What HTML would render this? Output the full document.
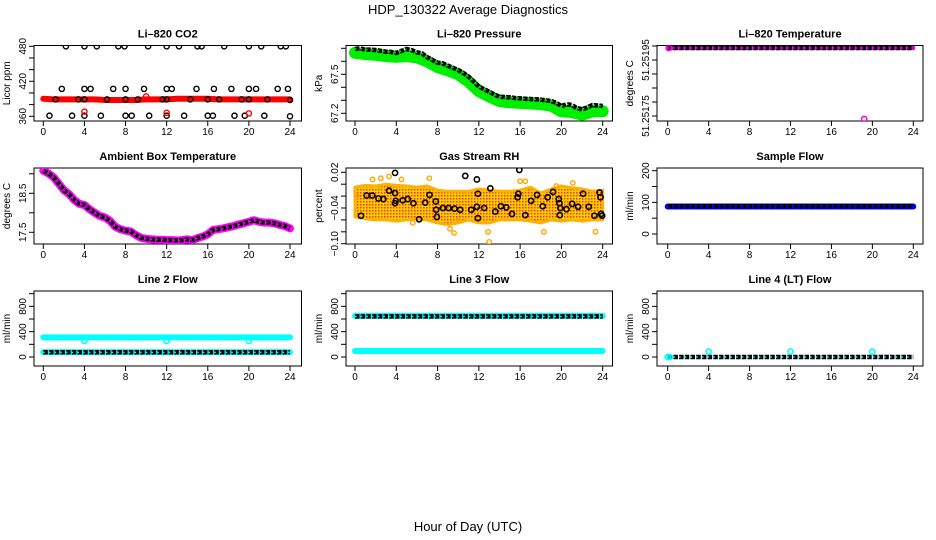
<!DOCTYPE html>
<html><head><meta charset="utf-8">
<style>
html,body{margin:0;padding:0;background:#fff;}
svg{display:block;font-family:"Liberation Sans",Arial,sans-serif;}
</style></head>
<body>
<svg id="fig" width="936" height="540" viewBox="0 0 936 540" xmlns="http://www.w3.org/2000/svg">
<defs>
<pattern id="rhpat" width="3" height="3" patternUnits="userSpaceOnUse">
<rect width="3" height="3" fill="#ffd000"/><rect x="0" y="0" width="1.5" height="1.5" fill="#ff2a00"/>
</pattern>
</defs>
<text x="468" y="14" text-anchor="middle" font-size="13">HDP_130322  Average Diagnostics</text>
<text x="468" y="531" text-anchor="middle" font-size="13">Hour of Day (UTC)</text>
</svg>
<script>
// ---- data ----
const xTicks = [0,4,8,12,16,20,24];
const halfHours = []; for (let i=0;i<=48;i++) halfHours.push(i/2);
const hours = []; for (let i=0;i<=24;i++) hours.push(i);

// CO2
const co2Red = [390,389,389,389,389,389,388,388,388,388,389,389,389,390,390,390,390,389,389,389,389,389,389,389,389];
const co2BlackH = [2.2,4,5.2,7.3,7.9,10.2,12,13.2,15,15.4,17.6,20,21.2,23.1,23.6, 1.8,4,4.6,6.8,8,9.8,12,12.5,14.9,16.6,18.3,20,20.7,22.8,23.8, 1.2,3.4,4,6.2,8,9.2,11.6,12,14.3,16,17.1,19.3,20,21.8,24, 0.6,2.8,4,5.6,8,8.6,10.3,12,13.7,16,16.5,18.6,19.6,21.5,24];
const co2BlackV = [480,480,480,480,480,480,480,480,480,480,480,480,480,480,480, 407,407,407,407,407,407,407,407,407,407,407,407,407,407,407, 389,389,389,389,389,389,389,389,389,389,389,389,389,389,388, 361,361,361,361,361,361,361,361,361,361,361,361,361,361,360];
const co2RedPtH = [4,10,12,20];
const co2RedPtV = [368,394,366,365];

// Pressure
const presBlack = [67.695,67.70,67.69,67.69,67.687,67.68,67.674,67.672,67.664,67.68,67.695,67.685,67.669,67.66,67.631,67.61,67.589,67.585,67.566,67.55,67.533,67.51,67.482,67.445,67.405,67.385,67.366,67.345,67.328,67.325,67.323,67.318,67.315,67.312,67.31,67.308,67.305,67.30,67.295,67.28,67.256,67.27,67.264,67.24,67.231,67.245,67.264,67.26,67.256];
const presGreen = [67.665,67.655,67.65,67.64,67.635,67.64,67.63,67.60,67.555,67.53,67.50,67.445,67.37,67.33,67.295,67.285,67.28,67.275,67.27,67.26,67.215,67.21,67.19,67.215,67.215];

// Li-820 temperature
const tempVals = [51.251993,51.251993,51.251993,51.251993,51.251993,51.251993,51.251993,51.251993,51.251993,51.251993,51.251993,51.251993,51.251993,51.251993,51.251993,51.251993,51.251993,51.251993,51.251993,51.251993,51.251993,51.251993,51.251993,51.251993,51.251993];
const tempOutH = [0.1,19.2];
const tempOutV = [51.251993,51.251739];

// Ambient box temperature
const ambVals = [19.08,19.01,18.91,18.75,18.58,18.48,18.33,18.23,18.20,18.09,18.00,17.92,17.88,17.79,17.64,17.58,17.54,17.52,17.43,17.36,17.33,17.32,17.31,17.31,17.30,17.30,17.29,17.30,17.32,17.30,17.35,17.39,17.45,17.56,17.58,17.60,17.63,17.66,17.70,17.73,17.77,17.81,17.77,17.75,17.75,17.73,17.69,17.66,17.60];

// Gas stream RH
const rhUpper = [-0.005,-0.002,-0.003,0,-0.002,-0.003,-0.005,-0.003,-0.01,-0.012,-0.012,-0.012,-0.008,-0.01,-0.012,-0.012,-0.01,-0.005,-0.015,-0.008,-0.003,-0.006,-0.008,-0.012,-0.01];
const rhLower = [-0.055,-0.058,-0.06,-0.06,-0.062,-0.06,-0.058,-0.06,-0.065,-0.068,-0.065,-0.06,-0.065,-0.065,-0.06,-0.06,-0.06,-0.062,-0.065,-0.06,-0.062,-0.06,-0.062,-0.06,-0.06];
const rhOutH = [1.7,2.5,3.3,4.5,7.2,9.2,9.6,12.9,13.0,16,16.5,18.3,23.3,0.2,5.6,10,19.5,21.1];
const rhOutV = [0.008,0.01,0.013,0.008,0.01,-0.075,-0.082,-0.08,-0.097,0.005,0.005,-0.08,-0.08,-0.02,-0.065,-0.06,-0.003,0.002];
const rhBlackH = [0.58,1.13,1.68,2.27,2.75,3.30,3.88,3.88,3.95,3.88,4.63,5.11,5.66,6.21,6.80,7.22,7.83,7.86,7.93,8.51,9.06,9.64,10.19,10.68,11.26,11.81,11.81,11.91,11.91,12.52,13.11,13.59,14.14,14.66,15.21,15.76,15.83,15.92,16.50,17.06,17.64,18.19,18.67,19.19,19.74,19.81,19.84,19.90,20.49,21.04,21.62,22.10,22.65,23.20,23.69,23.79,23.85,23.95];
const rhBlackV = [-0.053,-0.019,-0.019,-0.024,-0.025,-0.011,-0.015,-0.032,-0.028,0.019,-0.027,-0.025,-0.032,-0.059,-0.031,-0.018,-0.029,-0.043,-0.055,-0.040,-0.040,-0.041,-0.043,0.014,-0.043,0.008,-0.038,-0.016,-0.057,-0.040,-0.007,-0.046,-0.037,-0.039,-0.050,-0.022,-0.016,0.024,-0.052,-0.028,-0.018,-0.037,-0.022,-0.013,-0.025,-0.032,-0.052,-0.040,-0.042,-0.033,-0.038,-0.016,-0.038,-0.053,-0.014,-0.022,-0.050,-0.053];

// Sample flow
const sfBlue = [87,87,87,87,87,87,87,87,87,87,87,87,87,87,87,87,87,87,87,87,87,87,87,87,87];
const sfBlack = [88,88,88,88,88,88,88,88,88,88,88,88,88,88,88,88,88,88,88,88,88,88,88,88,88];

// Line 2
const l2CyanHi = [310,310,310,310,310,310,310,310,310,310,310,310,310,310,310,310,310,310,310,310,310,310,310,310,310];
const l2CyanLo = [78,78,78,78,78,78,78,78,78,78,78,78,78,78,78,78,78,78,78,78,78,78,78,78,78];
const l2Black = [75,75,75,75,75,75,75,75,75,75,75,75,75,75,75,75,75,75,75,75,75,75,75,75,75];
const l2DipH = [4,12,20];
const l2DipV = [255,255,255];

// Line 3
const l3CyanHi = [650,650,650,650,650,650,650,650,650,650,650,650,650,650,650,650,650,650,650,650,650,650,650,650,650];
const l3CyanLo = [95,95,95,95,95,95,95,95,95,95,95,95,95,95,95,95,95,95,95,95,95,95,95,95,95];
const l3Black = [642,642,642,642,642,642,642,642,642,642,642,642,642,642,642,642,642,642,642,642,642,642,642,642,642];

// Line 4
const l4Black = [0,0,0,0,0,0,0,0,0,0,0,0,0,0,0,0,0,0,0,0,0,0,0,0,0];
const l4CyanH = [0,0.2,4,12,20];
const l4CyanV = [0,0,85,85,85];

// ---- drawing ----
const NS = "http://www.w3.org/2000/svg";
const svg = document.getElementById('fig');
const colX0 = [43.3,355,667.7], colX24 = [290,602.7,913.3];
const boxL = [34,346,657], boxR = [301.5,612.5,923];
const boxT = [45.5,168,291], boxB = [121,244,366];

function mk(tag, attrs, parent){
  const e = document.createElementNS(NS, tag);
  for (const k in attrs) e.setAttribute(k, attrs[k]);
  (parent||svg).appendChild(e);
  return e;
}

function panel(o){
  const g = mk('g', {});
  
  
  const c = o.col, r = o.row;
  const sx = h => colX0[c] + (colX24[c]-colX0[c]) * h / 24;
  const sy = v => o.p0 + (o.p1 - o.p0) * (v - o.v0) / (o.v1 - o.v0);
  const cx = (boxL[c]+boxR[c])/2;
  const t = mk('text', {x:cx, y:boxT[r]-8, 'text-anchor':'middle', 'font-size':11, 'font-weight':'bold'}, g);
  t.textContent = o.title;
  
  
  const box = mk('rect', {x:boxL[c], y:boxT[r], width:boxR[c]-boxL[c], height:boxB[r]-boxT[r], fill:'none', stroke:'#000', 'stroke-width':1}, g);
  
  
  // x axis
  const xa = mk('g', {}, g);
  
  
  xTicks.forEach(v => {
    mk('line', {x1:sx(v), x2:sx(v), y1:boxB[r], y2:boxB[r]+5, stroke:'#000'}, xa);
    const tl = mk('text', {x:sx(v), y:boxB[r]+14, 'text-anchor':'middle', 'font-size':10}, xa);
    tl.textContent = v;
    
    
  });
  // y axis
  const ya = mk('g', {}, g);
  
  
  o.yticks.forEach(v => {
    mk('line', {x1:boxL[c]-5, x2:boxL[c], y1:sy(v), y2:sy(v), stroke:'#000'}, ya);
  });
  o.ylabels.forEach((v,i) => {
    const yy = sy(v), xx = boxL[c]-8;
    const tl = mk('text', {x:xx, y:yy, 'text-anchor':'middle', 'font-size':10, transform:`rotate(-90 ${xx} ${yy})`}, ya);
    tl.textContent = o.ylabelText ? o.ylabelText[i] : v;
    
    
  });
  const lx = boxL[c]-24, ly = (boxT[r]+boxB[r])/2;
  const yt = mk('text', {x:lx, y:ly, 'text-anchor':'middle', 'font-size':10, transform:`rotate(-90 ${lx} ${ly})`}, g);
  yt.textContent = o.ylab;
  
  
  const clip = 'clip' + c + r;
  const cp = mk('clipPath', {id:clip}, g);
  mk('rect', {x:boxL[c], y:boxT[r], width:boxR[c]-boxL[c], height:boxB[r]-boxT[r]}, cp);
  const plot = mk('g', {'clip-path':`url(#${clip})`}, g);
  
  
  return {sx, sy, plot};
}

function band(p, hs, vs, color, w, name){
  const pts = hs.map((h,i) => p.sx(h).toFixed(1)+','+p.sy(vs[i]).toFixed(1)).join(' ');
  const e = mk('polyline', {points:pts, fill:'none', stroke:color, 'stroke-width':w, 'stroke-linejoin':'round', 'stroke-linecap':'round'}, p.plot);
  
  
  return e;
}
function chain(p, hs, vs, inner, name){
  const pts = hs.map((h,i) => p.sx(h).toFixed(1)+','+p.sy(vs[i]).toFixed(1)).join(' ');
  const e = mk('polyline', {points:pts, fill:'none', stroke:'#000', 'stroke-width':4.5, 'stroke-dasharray':'4.5 1.2'}, p.plot);
  
  
  mk('polyline', {points:pts, fill:'none', stroke:inner, 'stroke-width':1.4, 'stroke-dasharray':'1.5 4.2'}, p.plot);
}
function dots(p, hs, vs, color, name, r, sw){
  hs.forEach((h,i) => {
    const e = mk('circle', {cx:p.sx(h), cy:p.sy(vs[i]), r:r||2.6, fill:'none', stroke:color, 'stroke-width':sw||1.4}, p.plot);
    
    
  });
}

// Panel 1: CO2
let p = panel({name:'panel-co2', col:0, row:0, title:'Li\u2013820 CO2', ylab:'Licor ppm', v0:360, p0:116.3, v1:480, p1:46.3,
  yticks:[360,380,400,420,440,460,480], ylabels:[360,420,480]});
band(p, hours, co2Red, '#ff0000', 6, 'co2-band');
dots(p, co2BlackH, co2BlackV, '#000', 'co2-point');
dots(p, co2RedPtH, co2RedPtV, '#ff0000', 'co2-red-point');

// Panel 2: Pressure
p = panel({name:'panel-pressure', col:1, row:0, title:'Li\u2013820 Pressure', ylab:'kPa', v0:67.2, p0:113.3, v1:67.5, p1:74.3,
  yticks:[67.2,67.3,67.4,67.5,67.6,67.7], ylabels:[67.2,67.5], ylabelText:['67.2','67.5']});
band(p, hours, presGreen, '#00ee00', 12, 'pressure-band');
chain(p, halfHours, presBlack, '#00ee00', 'pressure-average');

// Panel 3: Li-820 temperature
p = panel({name:'panel-li820-temperature', col:2, row:0, title:'Li\u2013820 Temperature', ylab:'degrees C', v0:51.25175, p0:116, v1:51.25200, p1:46,
  yticks:[51.25175,51.2518,51.25185,51.2519,51.25195,51.252], ylabels:[51.25175,51.25195], ylabelText:['51.25175','51.25195']});
band(p, hours, tempVals, '#ff00ff', 4, 'temperature-band');
chain(p, hours, tempVals, '#ff00ff', 'temperature-average');
dots(p, tempOutH, tempOutV, '#ff00ff', 'temperature-outlier', 2.6, 1.6);

// Panel 4: Ambient
p = panel({name:'panel-ambient-temperature', col:0, row:1, title:'Ambient Box Temperature', ylab:'degrees C', v0:17.5, p0:232.3, v1:18.5, p1:193.3,
  yticks:[17.5,18,18.5,19], ylabels:[17.5,18.5], ylabelText:['17.5','18.5']});
band(p, halfHours, ambVals, '#ff00ff', 8, 'ambient-band');
chain(p, halfHours, ambVals, '#ff00ff', 'ambient-average');

// Panel 5: RH
p = panel({name:'panel-gas-rh', col:1, row:1, title:'Gas Stream RH', ylab:'percent', v0:0.02, p0:172.3, v1:-0.10, p1:243.7,
  yticks:[0.02,0,-0.02,-0.04,-0.06,-0.08,-0.10], ylabels:[0.02,-0.04,-0.10], ylabelText:['0.02','\u22120.04','\u22120.10']});
{
  const up = hours.map((h,i)=>p.sx(h).toFixed(1)+','+p.sy(rhUpper[i]).toFixed(1));
  const lo = hours.map((h,i)=>p.sx(h).toFixed(1)+','+p.sy(rhLower[i]).toFixed(1)).reverse();
  const e = mk('polygon', {points:up.concat(lo).join(' '), fill:'url(#rhpat)', stroke:'#ffb000', 'stroke-width':3, 'stroke-linejoin':'round'}, p.plot);
  
  
}
dots(p, rhOutH, rhOutV, '#ffa500', 'rh-outlier', 2.2, 1.4);
dots(p, rhBlackH, rhBlackV, '#000', 'rh-average', 2.6, 1.6);

// Panel 6: Sample flow
p = panel({name:'panel-sample-flow', col:2, row:1, title:'Sample Flow', ylab:'ml/min', v0:0, p0:234, v1:200, p1:170.7,
  yticks:[0,50,100,150,200], ylabels:[0,100,200]});
band(p, hours, sfBlue, '#0000ff', 6, 'sample-flow-band');
chain(p, hours, sfBlack, '#0000ff', 'sample-flow-average');

// Panel 7: Line 2
p = panel({name:'panel-line2-flow', col:0, row:2, title:'Line 2 Flow', ylab:'ml/min', v0:0, p0:357, v1:1000, p1:293.7,
  yticks:[0,200,400,600,800,1000], ylabels:[0,400,800]});
band(p, hours, l2CyanHi, '#00ffff', 6, 'line2-upper-band');
band(p, hours, l2CyanLo, '#00ffff', 6, 'line2-lower-band');
dots(p, l2DipH, l2DipV, '#00ffff', 'line2-dip', 2.6, 1.6);
chain(p, hours, l2Black, '#00ffff', 'line2-average');

// Panel 8: Line 3
p = panel({name:'panel-line3-flow', col:1, row:2, title:'Line 3 Flow', ylab:'ml/min', v0:0, p0:357, v1:1000, p1:293.7,
  yticks:[0,200,400,600,800,1000], ylabels:[0,400,800]});
band(p, hours, l3CyanHi, '#00ffff', 6, 'line3-upper-band');
band(p, hours, l3CyanLo, '#00ffff', 6, 'line3-lower-band');
chain(p, hours, l3Black, '#00ffff', 'line3-average');

// Panel 9: Line 4
p = panel({name:'panel-line4-flow', col:2, row:2, title:'Line 4 (LT) Flow', ylab:'ml/min', v0:0, p0:357, v1:1000, p1:293.7,
  yticks:[0,200,400,600,800,1000], ylabels:[0,400,800]});
chain(p, hours, l4Black, '#00ffff', 'line4-average');
dots(p, l4CyanH, l4CyanV, '#00ffff', 'line4-cyan-point', 2.6, 1.6);
</script>
</body></html>
